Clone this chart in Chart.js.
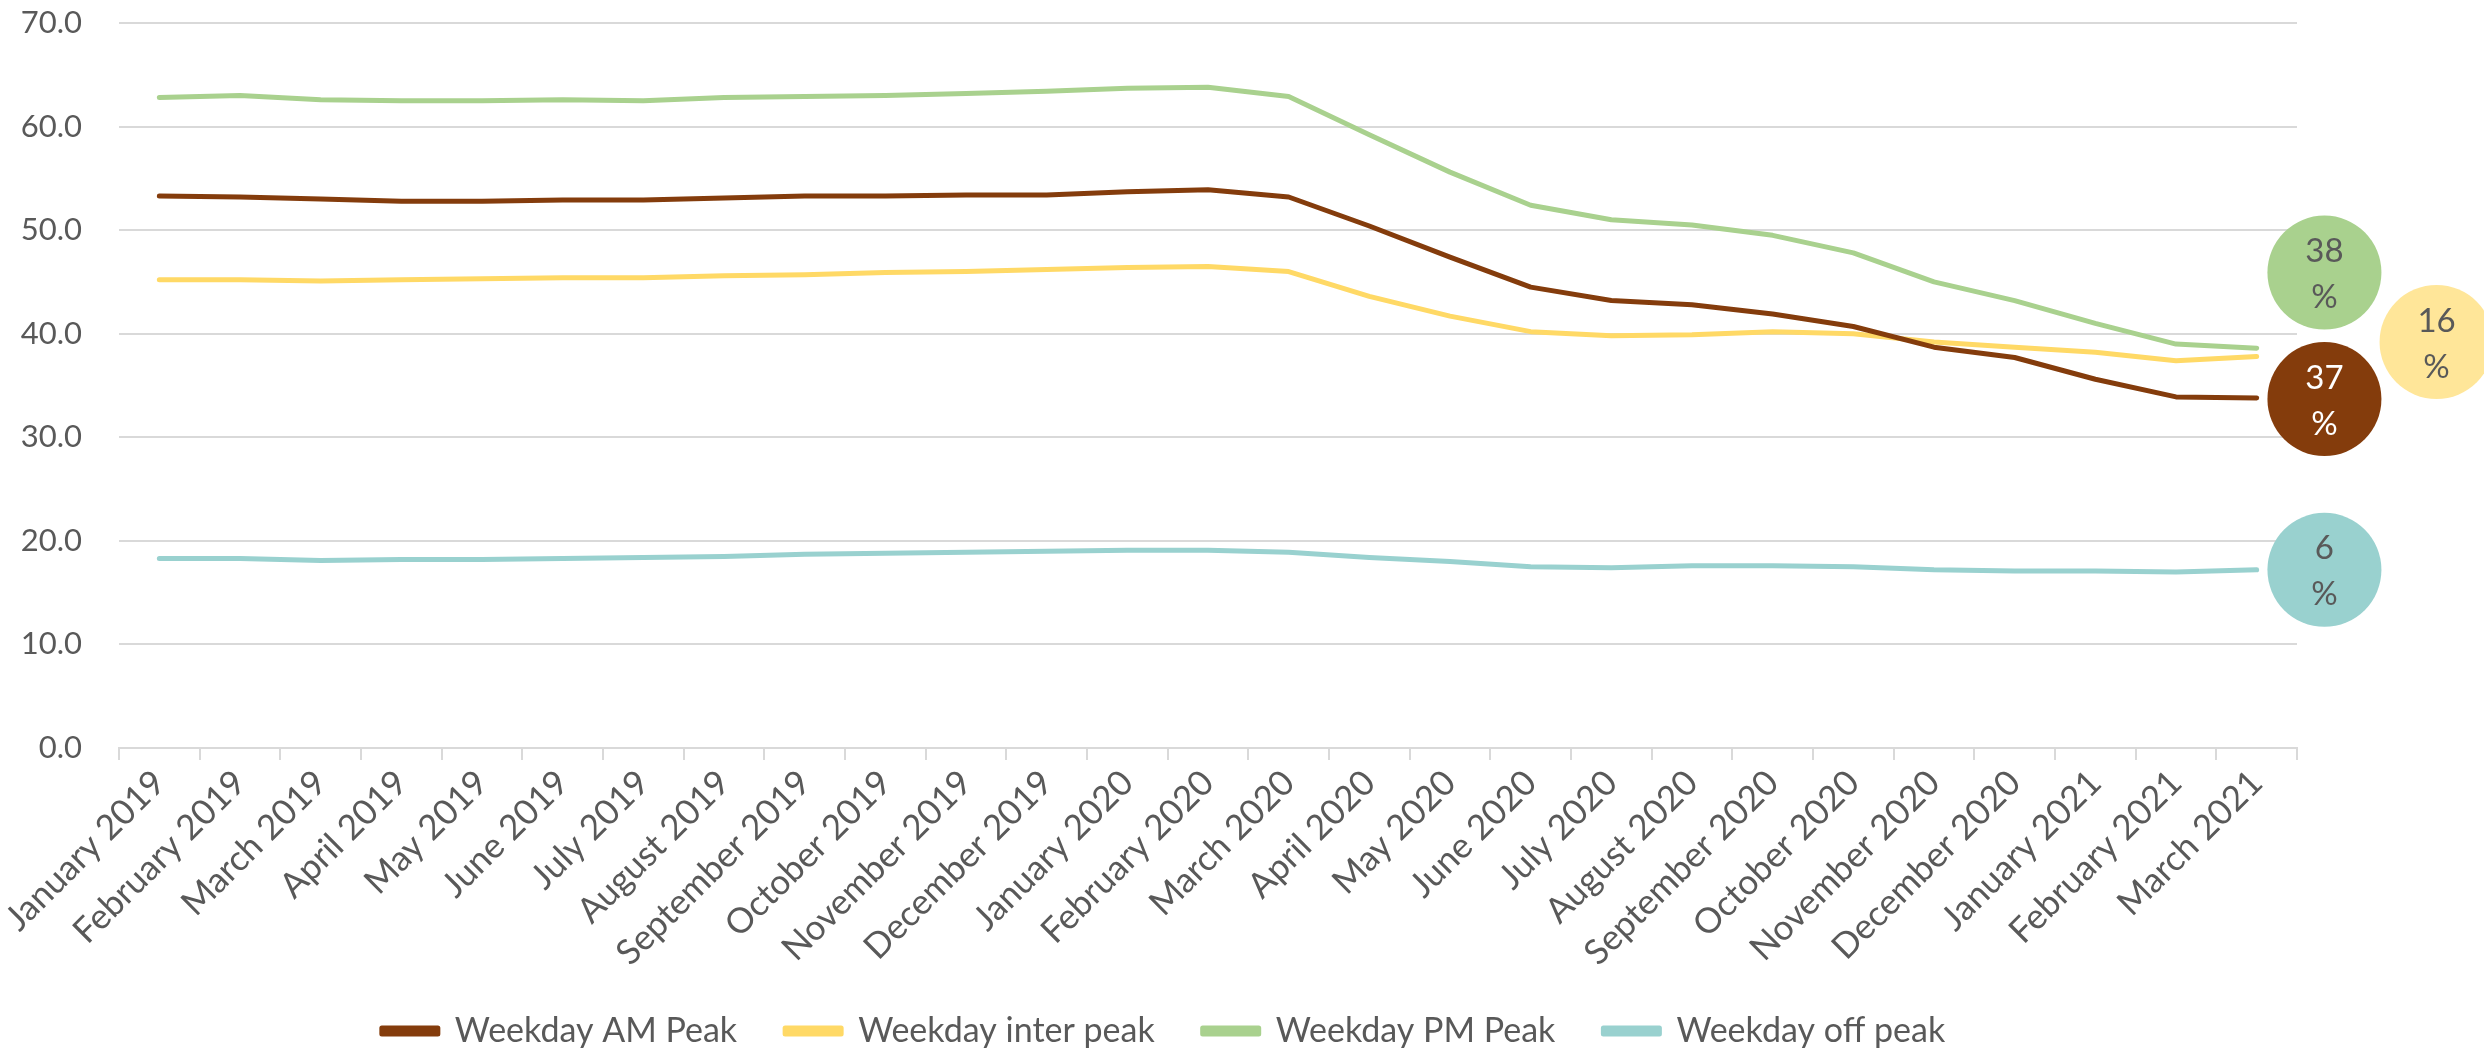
<!DOCTYPE html>
<html>
<head>
<meta charset="utf-8">
<script src="https://cdn.jsdelivr.net/npm/chart.js@4/dist/chart.umd.min.js"></script>
<style>
  html, body { margin: 0; padding: 0; background: #ffffff; }
  #wrap { width: 2484px; height: 1048px; }
</style>
</head>
<body>
<div id="wrap"><canvas id="c" width="2484" height="1048"></canvas></div>
<script>
const categories = [
  "January 2019","February 2019","March 2019","April 2019","May 2019","June 2019",
  "July 2019","August 2019","September 2019","October 2019","November 2019","December 2019",
  "January 2020","February 2020","March 2020","April 2020","May 2020","June 2020",
  "July 2020","August 2020","September 2020","October 2020","November 2020","December 2020",
  "January 2021","February 2021","March 2021"
];
const seriesNames = ["Weekday AM Peak", "Weekday inter peak", "Weekday PM Peak", "Weekday off peak"];
const amPeak = [53.3,53.2,53.0,52.8,52.8,52.9,52.9,53.1,53.3,53.3,53.4,53.4,53.7,53.9,53.2,50.4,47.4,44.5,43.2,42.8,41.9,40.7,38.7,37.7,35.6,33.9,33.8];
const interPeak = [45.2,45.2,45.1,45.2,45.3,45.4,45.4,45.6,45.7,45.9,46.0,46.2,46.4,46.5,46.0,43.6,41.7,40.2,39.8,39.9,40.2,40.0,39.2,38.7,38.2,37.4,37.8];
const pmPeak = [62.8,63.0,62.6,62.5,62.5,62.6,62.5,62.8,62.9,63.0,63.2,63.4,63.7,63.8,62.9,59.2,55.6,52.4,51.0,50.5,49.5,47.8,45.0,43.2,41.0,39.0,38.6];
const offPeak = [18.3,18.3,18.1,18.2,18.2,18.3,18.4,18.5,18.7,18.8,18.9,19.0,19.1,19.1,18.9,18.4,18.0,17.5,17.4,17.6,17.6,17.5,17.2,17.1,17.1,17.0,17.2];
const yTicks = [0,10,20,30,40,50,60,70];
// change labels shown in the circles (AM, inter, PM, off)
const changeLabels = ["37", "16", "38", "6"];
// value at which each circle is centred
const bubbleValues = [33.7, 39.2, 45.9, 17.2];

// styling (kept separate from data)
const lineColors = ["#843C0C", "#FFD966", "#A9D18E", "#99D1CF"];
const bubbleFill = ["#843C0C", "#FFE699", "#A9D18E", "#99D1CF"];
const bubbleText = ["#ffffff", "#595959", "#595959", "#595959"];
const bubbleOffsetCats = [0.84, 2.23, 0.84, 0.84];
const bubbleRadius = 57;
const FONT = "Lato, 'Open Sans', sans-serif";
const TEXT = "#595959";
const GRID = "#d9d9d9";

const seriesData = [amPeak, interPeak, pmPeak, offPeak];

const bubblePlugin = {
  id: 'bubbles',
  afterLayout(chart) {
    // nudge the legend block slightly right, as in the original
    if (chart.legend) { chart.legend.left += 30; }
  },
  afterDatasetsDraw(chart) {
    const ctx = chart.ctx;
    const xs = chart.scales.x, ys = chart.scales.y;
    const last = categories.length - 1;
    const step = xs.getPixelForValue(last) - xs.getPixelForValue(last - 1);
    ctx.save();
    for (let i = 0; i < changeLabels.length; i++) {
      const cx = xs.getPixelForValue(last) + bubbleOffsetCats[i] * step;
      const cy = ys.getPixelForValue(bubbleValues[i]);
      ctx.beginPath();
      ctx.arc(cx, cy, bubbleRadius, 0, Math.PI * 2);
      ctx.fillStyle = bubbleFill[i];
      ctx.fill();
      ctx.fillStyle = bubbleText[i];
      ctx.font = "33px " + FONT;
      ctx.textAlign = "center";
      ctx.textBaseline = "middle";
      ctx.fillText(changeLabels[i], cx, cy - 21);
      ctx.fillText("%", cx, cy + 25);
    }
    ctx.restore();
  }
};

new Chart(document.getElementById('c'), {
  type: 'line',
  data: {
    labels: categories,
    datasets: seriesData.map((d, i) => ({
      label: seriesNames[i],
      data: d,
      borderColor: lineColors[i],
      backgroundColor: lineColors[i],
      borderWidth: 5,
      pointRadius: 0,
      tension: 0,
      borderCapStyle: 'round',
      borderJoinStyle: 'round',
      fill: false
    }))
  },
  options: {
    responsive: false,
    animation: false,
    devicePixelRatio: 1,
    layout: { padding: { top: 23, right: 187, bottom: -10, left: 0 } },
    plugins: {
      legend: {
        position: 'bottom',
        labels: {
          font: { family: FONT, size: 34 },
          color: TEXT,
          boxWidth: 56,
          boxHeight: 6,
          padding: 48
        }
      },
      tooltip: { enabled: false }
    },
    scales: {
      x: {
        offset: true,
        grid: {
          offset: true,
          drawOnChartArea: false,
          drawTicks: true,
          tickLength: 12,
          color: GRID,
          lineWidth: 2
        },
        border: { display: true, color: GRID, width: 2 },
        ticks: {
          font: { family: FONT, size: 35 },
          color: TEXT,
          maxRotation: 45,
          minRotation: 45,
          autoSkip: false,
          padding: 2
        },
        afterFit(scale) { scale.height = 218; }
      },
      y: {
        min: 0,
        max: 70,
        afterBuildTicks(scale) { scale.ticks = yTicks.map(v => ({ value: v })); },
        grid: { color: GRID, lineWidth: 2, drawTicks: true, tickLength: 37, tickColor: 'rgba(0,0,0,0)' },
        border: { display: false },
        ticks: {
          font: { family: FONT, size: 31 },
          color: TEXT,
          padding: 0,
          callback: v => Number(v).toFixed(1)
        },
        afterFit(scale) { scale.width = 119; }
      }
    }
  },
  plugins: [bubblePlugin]
});
</script>
</body>
</html>
